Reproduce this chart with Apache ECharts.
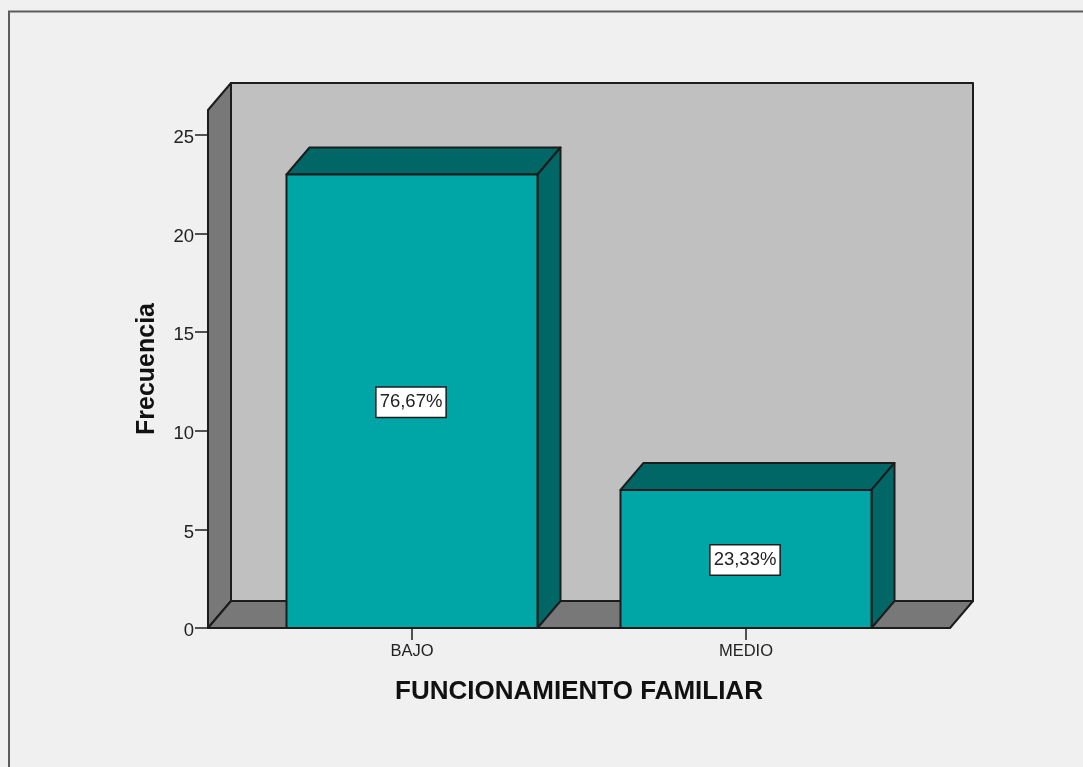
<!DOCTYPE html>
<html><head><meta charset="utf-8">
<style>html,body{margin:0;padding:0;background:#f0f0f0;overflow:hidden}#c{width:1083px;height:767px}</style>
<script src="https://cdn.jsdelivr.net/npm/echarts@6/dist/echarts.min.js"></script>
</head><body><div id="c"></div>
<script>
const categories = ['BAJO', 'MEDIO'];
const frecuencia = [23, 7];
const porcentajes = ['76,67%', '23,33%'];
const yTicks = [0, 5, 10, 15, 20, 25];
const xTitle = 'FUNCIONAMIENTO FAMILIAR';
const yTitle = 'Frecuencia';

const DX = 23, DY = -27, PAD = 37, BAR_RATIO = 0.7515;
const EDGE = '#1c1c1c';
const font = '"Liberation Sans", Arial, sans-serif';

function poly(points, fill) {
  return { type: 'polygon', shape: { points }, style: { fill, stroke: EDGE, lineWidth: 2, lineJoin: 'round' } };
}
function renderWalls(params, api) {
  const c = params.coordSys;
  const l = c.x - PAD, r = c.x + c.width + PAD, t = c.y, b = c.y + c.height;
  return { type: 'group', children: [
    poly([[l+DX,t+DY],[r+DX,t+DY],[r+DX,b+DY],[l+DX,b+DY]], '#c0c0c0'),
    poly([[l,t],[l+DX,t+DY],[l+DX,b+DY],[l,b]], '#787878'),
    poly([[l,b],[l+DX,b+DY],[r+DX,b+DY],[r,b]], '#787878')
  ]};
}
function renderBar(params, api) {
  const i = api.value(0), v = api.value(1);
  const base = api.coord([i, 0]), top = api.coord([i, v]);
  const w = api.size([1, 0])[0] * BAR_RATIO;
  const l = base[0] - w / 2, r = base[0] + w / 2, t = top[1], b = base[1];
  const mid = api.coord([i, v / 2]);
  return { type: 'group', children: [
    poly([[l,t],[l+DX,t+DY],[r+DX,t+DY],[r,t]], '#006666'),
    poly([[r,t],[r+DX,t+DY],[r+DX,b+DY],[r,b]], '#006666'),
    poly([[l,t],[r,t],[r,b],[l,b]], '#00a6a6'),
    { type: 'text', x: mid[0] - 1, y: mid[1] + 1, style: {
        text: porcentajes[params.dataIndex], font: '18.5px ' + font, fill: '#222',
        align: 'center', verticalAlign: 'middle',
        backgroundColor: '#fff', borderColor: '#1c1c1c', borderWidth: 1.5,
        padding: [6, 3, 4, 3]
    } }
  ]};
}

const chart = echarts.init(document.getElementById('c'), null, { renderer: 'canvas' });
chart.setOption({
  animation: false,
  backgroundColor: '#f0f0f0',
  textStyle: { fontFamily: font },
  graphic: [{ type: 'rect', silent: true, z: -1,
    shape: { x: 9, y: 11.5, width: 1300, height: 1000 },
    style: { fill: 'transparent', stroke: '#5c5c5c', lineWidth: 2 } }],
  grid: { left: 245, right: 170, top: 110, bottom: 139 },
  xAxis: {
    type: 'category', data: categories,
    axisLine: { show: false },
    axisTick: { show: true, alignWithLabel: true, length: 12, lineStyle: { color: EDGE, width: 1.5 } },
    axisLabel: { color: '#222', fontSize: 16.5, margin: 15 },
    name: xTitle, nameLocation: 'middle', nameGap: 51,
    nameTextStyle: { color: '#111', fontSize: 26, fontWeight: 'bold' }
  },
  yAxis: {
    type: 'value', min: 0, max: 26.27, offset: 37,
    splitLine: { show: false },
    axisLine: { show: false },
    axisTick: { show: true, length: 13, customValues: yTicks, lineStyle: { color: EDGE, width: 1.5 } },
    axisLabel: { color: '#222', fontSize: 18.5, margin: 14, verticalAlign: 'top', lineHeight: 6, customValues: yTicks },
    name: yTitle, nameLocation: 'middle', nameGap: 48,
    nameTextStyle: { color: '#111', fontSize: 25, fontWeight: 'bold' }
  },
  series: [
    { type: 'custom', silent: true, z: 1, clip: false, renderItem: renderWalls, data: [[0, 0]] },
    { type: 'custom', silent: true, z: 2, clip: false, renderItem: renderBar,
      encode: { x: 0, y: 1 }, data: frecuencia.map((v, i) => [i, v]) }
  ]
});
</script></body></html>
